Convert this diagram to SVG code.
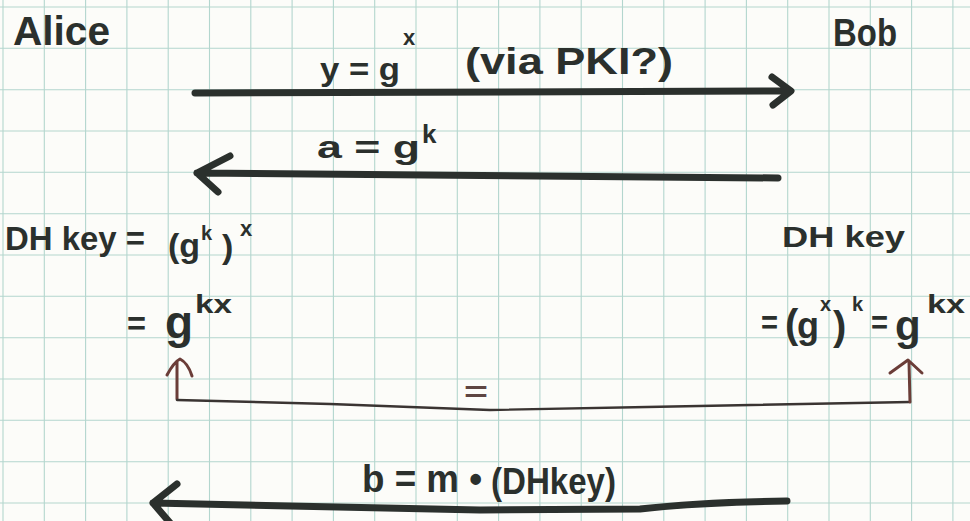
<svg xmlns="http://www.w3.org/2000/svg" width="970" height="521" viewBox="0 0 970 521">
<style>
.grid line{stroke:#b3d6ce;stroke-width:1.1}
.t{font-family:"Liberation Sans",Arial,sans-serif;font-weight:700;fill:#2b302d}
.ink{fill:none;stroke:#2b302d;stroke-width:7;stroke-linecap:round;stroke-linejoin:round}
.brown{fill:none;stroke:#6b3d38;stroke-width:3;stroke-linecap:round;stroke-linejoin:round}
.thin{fill:none;stroke:#3a3432;stroke-width:2.4;stroke-linecap:round;stroke-linejoin:round}
.eq{font-family:"Liberation Sans",Arial,sans-serif;font-weight:700;fill:#5e4542}
</style>
<rect width="970" height="521" fill="#fcfcf9"/>
<g class="grid">
<line x1="3" y1="0" x2="3" y2="521"/><line x1="44.3" y1="0" x2="44.3" y2="521"/><line x1="85.6" y1="0" x2="85.6" y2="521"/><line x1="126.9" y1="0" x2="126.9" y2="521"/><line x1="168.2" y1="0" x2="168.2" y2="521"/><line x1="209.5" y1="0" x2="209.5" y2="521"/><line x1="250.8" y1="0" x2="250.8" y2="521"/><line x1="292.1" y1="0" x2="292.1" y2="521"/><line x1="333.4" y1="0" x2="333.4" y2="521"/><line x1="374.7" y1="0" x2="374.7" y2="521"/><line x1="416" y1="0" x2="416" y2="521"/><line x1="457.3" y1="0" x2="457.3" y2="521"/><line x1="498.6" y1="0" x2="498.6" y2="521"/><line x1="539.9" y1="0" x2="539.9" y2="521"/><line x1="581.2" y1="0" x2="581.2" y2="521"/><line x1="622.5" y1="0" x2="622.5" y2="521"/><line x1="663.8" y1="0" x2="663.8" y2="521"/><line x1="705.1" y1="0" x2="705.1" y2="521"/><line x1="746.4" y1="0" x2="746.4" y2="521"/><line x1="787.7" y1="0" x2="787.7" y2="521"/><line x1="829" y1="0" x2="829" y2="521"/><line x1="870.3" y1="0" x2="870.3" y2="521"/><line x1="911.6" y1="0" x2="911.6" y2="521"/><line x1="952.9" y1="0" x2="952.9" y2="521"/>
<line x1="0" y1="7" x2="970" y2="7"/><line x1="0" y1="48.3" x2="970" y2="48.3"/><line x1="0" y1="89.7" x2="970" y2="89.7"/><line x1="0" y1="131" x2="970" y2="131"/><line x1="0" y1="172.3" x2="970" y2="172.3"/><line x1="0" y1="213.7" x2="970" y2="213.7"/><line x1="0" y1="255" x2="970" y2="255"/><line x1="0" y1="296.3" x2="970" y2="296.3"/><line x1="0" y1="337.7" x2="970" y2="337.7"/><line x1="0" y1="379" x2="970" y2="379"/><line x1="0" y1="420.3" x2="970" y2="420.3"/><line x1="0" y1="461.7" x2="970" y2="461.7"/><line x1="0" y1="503" x2="970" y2="503"/>
</g>
<g id="alice">
<text class="t" x="13" y="45" font-size="40" textLength="97" lengthAdjust="spacingAndGlyphs">Alice</text>
</g>
<g id="bob">
<text class="t" x="833" y="46" font-size="38" textLength="64" lengthAdjust="spacingAndGlyphs">Bob</text>
</g>
<g id="alice-key">
<text class="t" font-size="34"><tspan x="5" y="250" textLength="140" lengthAdjust="spacingAndGlyphs">DH key =</tspan><tspan x="168" y="257">(g</tspan><tspan x="201" y="240" font-size="20">k</tspan><tspan x="222" y="258">)</tspan><tspan x="240" y="236" font-size="22">x</tspan></text>
<text class="t" font-size="34"><tspan x="127" y="335" textLength="19" lengthAdjust="spacingAndGlyphs">=</tspan><tspan x="165" y="338" font-size="46">g</tspan><tspan x="195" y="313" font-size="26" textLength="37" lengthAdjust="spacingAndGlyphs">kx</tspan></text>
</g>
<g id="bob-key">
<text class="t" x="782" y="247" font-size="30" textLength="123" lengthAdjust="spacingAndGlyphs">DH key</text>
<text class="t" font-size="34"><tspan x="761" y="334" textLength="17" lengthAdjust="spacingAndGlyphs">=</tspan><tspan x="785" y="338" font-size="40">(</tspan><tspan x="797" y="338" font-size="36">g</tspan><tspan x="820" y="311" font-size="20">x</tspan><tspan x="833" y="340" font-size="40">)</tspan><tspan x="852" y="311" font-size="20">k</tspan><tspan x="871" y="334" textLength="17" lengthAdjust="spacingAndGlyphs">=</tspan><tspan x="895" y="340" font-size="42">g</tspan><tspan x="927" y="313" font-size="26" textLength="38" lengthAdjust="spacingAndGlyphs">kx</tspan></text>
</g>
<g id="connectors">
<path class="ink" d="M195,93 L790,91 M772,77 L791,91 L773,105"/>
<text class="t" font-size="32"><tspan x="320" y="80" textLength="80" lengthAdjust="spacingAndGlyphs">y = g</tspan><tspan x="403" y="45" font-size="22">x</tspan><tspan x="465" y="74" font-size="36" textLength="208" lengthAdjust="spacingAndGlyphs">(via PKI?)</tspan></text>
<path class="ink" d="M778,178 L197,173 M230,156 L197,173 L218,192"/>
<text class="t" font-size="32"><tspan x="317" y="158" textLength="103" lengthAdjust="spacingAndGlyphs">a = g</tspan><tspan x="422" y="143" font-size="26">k</tspan></text>
<path class="brown" d="M177,399 L177,361 M167,375 Q174,362 180,359 Q188,363 192,376"/>
<path class="thin" d="M177,400 L330,404 L490,410 L647,407 L910,402"/>
<path class="brown" d="M910,402 L909,362 M890,373 L908,360 L922,373"/>
<text class="eq" x="464" y="401" font-size="28" textLength="24" lengthAdjust="spacingAndGlyphs">=</text>
<path class="ink" stroke-width="8" d="M787,501 Q700,502 640,509 L480,510 L153,503 M177,484 L153,503 L171,524"/>
<text class="t" font-size="38"><tspan x="362" y="492" textLength="120" lengthAdjust="spacingAndGlyphs">b = m •</tspan><tspan x="491" y="494" font-size="36" textLength="125" lengthAdjust="spacingAndGlyphs">(DHkey)</tspan></text>
</g>
</svg>
